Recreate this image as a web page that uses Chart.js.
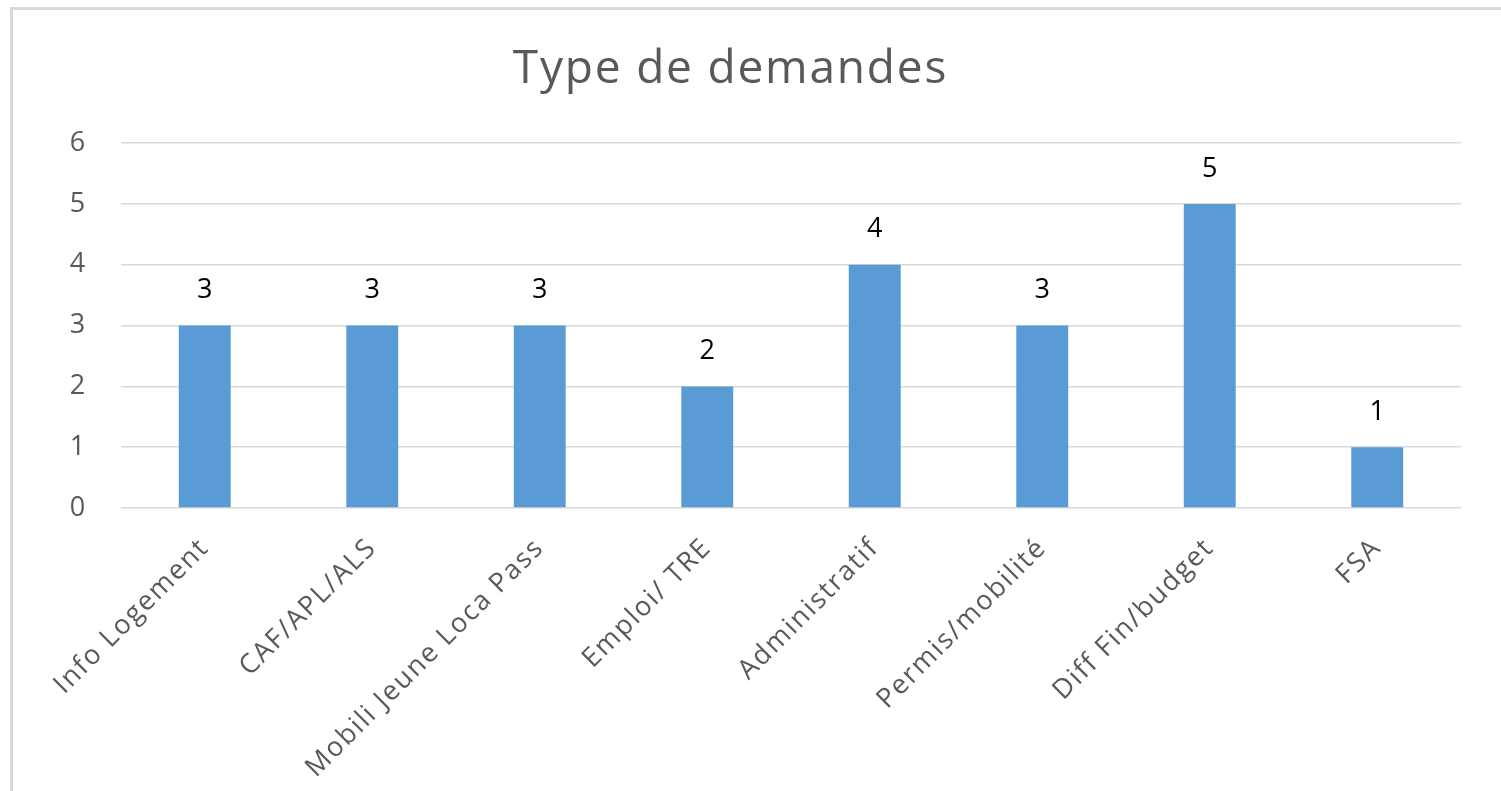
<!DOCTYPE html>
<html>
<head>
<meta charset="utf-8">
<title>Type de demandes</title>
<script src="https://cdn.jsdelivr.net/npm/chart.js@4.4.1/dist/chart.umd.min.js"></script>
<style>
    html, body { margin: 0; padding: 0; background: #fff; overflow: hidden; }
    #frame {
        position: absolute; left: 10px; top: 7px;
        width: 1700px; height: 1000px;
        border: 3px solid #d9d9d9;
        pointer-events: none;
    }
    #wrap { position: absolute; left: 0; top: 0; width: 1501px; height: 791px; }
</style>
</head>
<body>
<div id="frame"></div>
<div id="wrap"><canvas id="chart"></canvas></div>
<script>
var categories = [
    'Info Logement',
    'CAF/APL/ALS',
    'Mobili Jeune Loca Pass',
    'Emploi/ TRE',
    'Administratif',
    'Permis/mobilité',
    'Diff Fin/budget',
    'FSA'
];
var demandes = [3, 3, 3, 2, 4, 3, 5, 1];
var yTicks = [0, 1, 2, 3, 4, 5, 6];

// the reference text is a bit wide, spread the letters a little
var spacing = {
    id: 'spacing',
    beforeLayout: function(chart){ chart.ctx.letterSpacing = '1.8px'; },
    beforeDraw: function(chart){ chart.ctx.letterSpacing = '1.8px'; }
};

// value above each bar
var valueLabels = {
    id: 'valueLabels',
    afterDatasetsDraw: function(chart){
        var ctx = chart.ctx;
        var meta = chart.getDatasetMeta(0);
        ctx.save();
        ctx.letterSpacing = '0px';
        ctx.font = '27px "Open Sans"';
        ctx.fillStyle = '#000';
        ctx.textAlign = 'center';
        ctx.textBaseline = 'middle';
        meta.data.forEach(function(bar, i){
            ctx.fillText(String(chart.data.datasets[0].data[i]), bar.x, bar.y - 35);
        });
        ctx.restore();
    }
};

var ctx = document.getElementById('chart');
var myBarChart = new Chart(ctx, {
    type: 'bar',
    plugins: [spacing, valueLabels],
    data: {
        labels: categories,
        datasets: [{
            data: demandes,
            backgroundColor: '#5b9bd5',
            borderWidth: 0,
            categoryPercentage: 1,
            barPercentage: 0.31
        }]
    },
    options: {
        responsive: true,
        maintainAspectRatio: false,
        animation: false,
        layout: {
            padding: { left: 0, right: 40, top: 0, bottom: 0 }
        },
        plugins: {
            legend: { display: false },
            tooltip: { enabled: false },
            title: {
                display: true,
                text: 'Type de demandes',
                color: '#595959',
                font: { family: '"Open Sans"', size: 46, weight: 'normal' },
                padding: { top: 42, bottom: 46 }
            }
        },
        scales: {
            x: {
                grid: { display: false },
                border: { display: false },
                ticks: {
                    color: '#595959',
                    font: { family: '"Open Sans"', size: 27 },
                    minRotation: 45,
                    maxRotation: 45,
                    autoSkip: false,
                    padding: 16
                },
                afterFit: function(scale){ scale.height = 283; }
            },
            y: {
                min: 0,
                max: 6,
                afterBuildTicks: function(scale){
                    scale.ticks = yTicks.map(function(v){ return { value: v }; });
                },
                grid: { color: '#d9d9d9', lineWidth: 1.5, drawTicks: false },
                border: { display: false },
                ticks: {
                    color: '#595959',
                    font: { family: '"Open Sans"', size: 27 },
                    padding: 34
                },
                afterFit: function(scale){ scale.width = 121; }
            }
        }
    }
});
</script>
</body>
</html>
